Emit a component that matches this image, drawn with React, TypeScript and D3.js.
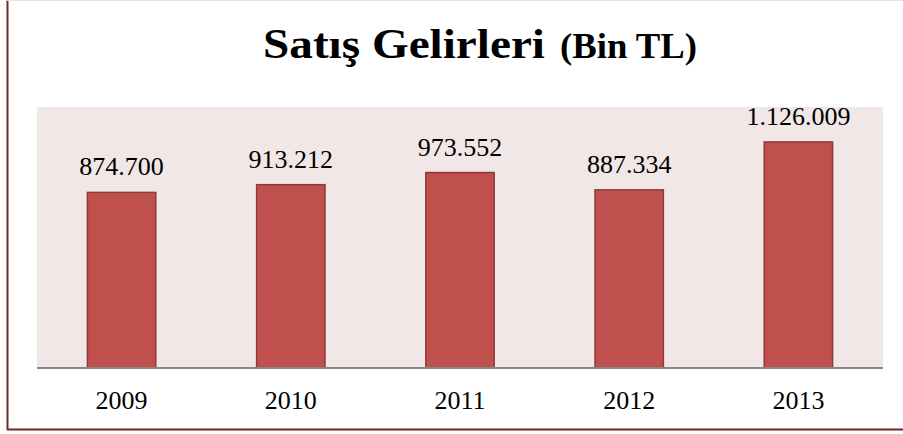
import React from "react";
import * as d3 from "d3";

const years = ["2009", "2010", "2011", "2012", "2013"];
const sales = [874700, 913212, 973552, 887334, 1126009];
const valueLabels = ["874.700", "913.212", "973.552", "887.334", "1.126.009"];
const yMax = 1300000;

export default function App() {
  const W = 903, H = 434;
  const plot = { left: 37, right: 883, top: 107, bottom: 368 };
  const x = d3.scaleBand().domain(years).range([plot.left, plot.right]).paddingInner(0.59).paddingOuter(0.295);
  const y = d3.scaleLinear().domain([0, yMax]).range([plot.bottom, plot.top]);
  const serif = "'Times New Roman', 'Liberation Serif', serif";
  return (
    <div style={{ position: "absolute", left: 0, top: 0 }}>
      <svg width={W} height={H} style={{ display: "block" }}>
        <rect x={0} y={0} width={W} height={H} fill="#ffffff" />
        <line x1={7.5} y1={0} x2={7.5} y2={430} stroke="#6b2b2b" strokeWidth={2} />
        <line x1={7} y1={429.5} x2={W} y2={429.5} stroke="#6b2b2b" strokeWidth={2} />
        <line x1={7} y1={0.5} x2={W} y2={0.5} stroke="#efdede" strokeWidth={1} />
        <rect x={plot.left} y={plot.top} width={plot.right - plot.left} height={plot.bottom - plot.top} fill="#f2e7e7" />
        {years.map((yr, i) => (
          <g key={yr}>
            <rect
              x={x(yr)! + 0.5}
              y={y(sales[i])}
              width={x.bandwidth() - 1}
              height={plot.bottom - y(sales[i])}
              fill="#c0504d"
              stroke="#8e3a38"
              strokeWidth={1.5}
            />
            <text
              x={x(yr)! + x.bandwidth() / 2}
              y={y(sales[i]) - 17}
              textAnchor="middle"
              fontFamily={serif}
              fontSize={26}
              fill="#000"
            >
              {valueLabels[i]}
            </text>
            <text
              x={x(yr)! + x.bandwidth() / 2}
              y={409}
              textAnchor="middle"
              fontFamily={serif}
              fontSize={26}
              fill="#000"
            >
              {yr}
            </text>
          </g>
        ))}
        <line x1={plot.left} y1={plot.bottom} x2={plot.right} y2={plot.bottom} stroke="#868686" strokeWidth={2} />
        <text x={263} y={58} fontFamily={serif} fontWeight="bold" fill="#000" fontSize={42} textLength={282} lengthAdjust="spacingAndGlyphs">
          Satış Gelirleri
        </text>
        <text x={560} y={58} fontFamily={serif} fontWeight="bold" fill="#000" fontSize={35} textLength={137} lengthAdjust="spacingAndGlyphs">
          (Bin TL)
        </text>
      </svg>
    </div>
  );
}
